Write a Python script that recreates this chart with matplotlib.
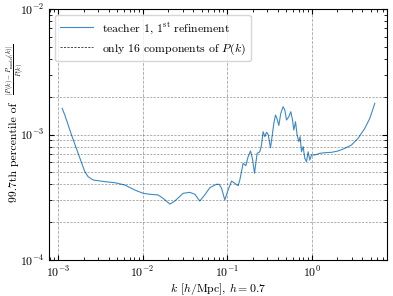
import numpy as np
import matplotlib
matplotlib.use("Agg")
from matplotlib import pyplot as plt

plt.rcParams['font.family'] = 'serif'
plt.rcParams['font.serif'] = ['cmr10']
plt.rcParams['mathtext.fontset'] = 'cm'
plt.rcParams['axes.formatter.use_mathtext'] = True
plt.rcParams['font.size'] = 8.5

# 99.7th percentile of relative error vs k
k_vals = [1.115e-3, 1.200e-3, 1.441e-3, 1.725e-3, 2.070e-3, 2.265e-3, 2.596e-3,
          3.57e-3, 4.69e-3, 6.16e-3, 8.09e-3, 1.014e-2, 1.217e-2, 1.526e-2,
          1.748e-2, 2.099e-2, 2.405e-2, 3.015e-2, 3.62e-2, 4.15e-2, 4.75e-2,
          5.44e-2, 6.24e-2, 7.49e-2, 8.04e-2, 8.59e-2, 9.39e-2, 0.1027, 0.1128,
          0.1234, 0.1349, 0.1414, 0.1546, 0.1665, 0.1772, 0.1892, 0.1998, 0.2110,
          0.2265, 0.2438, 0.2553, 0.2667, 0.2794, 0.2926, 0.3056, 0.3263, 0.3446,
          0.3570, 0.3740, 0.3906, 0.409, 0.4319, 0.4600, 0.4818, 0.5047, 0.5373,
          0.5674, 0.5943, 0.6157, 0.6449, 0.6737, 0.7054, 0.7311, 0.7595, 0.7932,
          0.8309, 0.8701, 0.9090, 0.9522, 0.997, 1.091, 1.250, 1.433, 1.720,
          2.059, 2.471, 2.966, 3.550, 4.262, 4.884, 5.598]
err_vals = [1.617e-3, 1.430e-3, 9.91e-4, 7.08e-4, 5.05e-4, 4.61e-4, 4.34e-4,
            4.21e-4, 4.13e-4, 3.96e-4, 3.61e-4, 3.40e-4, 3.34e-4, 3.30e-4,
            3.10e-4, 2.79e-4, 2.95e-4, 3.40e-4, 3.46e-4, 3.34e-4, 2.95e-4,
            3.30e-4, 3.77e-4, 4.01e-4, 4.01e-4, 3.73e-4, 3.01e-4, 3.61e-4, 4.26e-4,
            4.08e-4, 3.91e-4, 4.34e-4, 5.90e-4, 5.64e-4, 6.65e-4, 7.39e-4, 6.38e-4,
            4.91e-4, 7.08e-4, 7.29e-4, 8.25e-4, 1.053e-3, 9.61e-4, 1.041e-3,
            1.004e-3, 7.85e-4, 1.022e-3, 1.228e-3, 1.430e-3, 1.329e-3, 1.18e-3,
            1.476e-3, 1.665e-3, 1.567e-3, 1.304e-3, 1.386e-3, 1.519e-3, 1.304e-3,
            1.086e-3, 1.265e-3, 9.91e-4, 8.76e-4, 9.61e-4, 7.29e-4, 8.00e-4,
            6.46e-4, 6.07e-4, 7.29e-4, 6.26e-4, 6.87e-4, 6.87e-4, 7.08e-4, 7.16e-4,
            7.21e-4, 7.39e-4, 7.76e-4, 8.25e-4, 9.33e-4, 1.120e-3, 1.346e-3,
            1.772e-3]

# horizontal reference levels
comp_levels = [2e-3, 1e-3, 9e-4, 8e-4, 7e-4, 6e-4, 5e-4, 4e-4, 3e-4, 2e-4]

fig = plt.figure(figsize=(3.93, 2.96), dpi=100)
ax = fig.add_axes([0.1247, 0.1216, 0.86, 0.848])
ax: plt.Axes

ax.plot(k_vals, err_vals, color='#3d8ac6', lw=0.8,
        label=r'teacher 1, 1$^{\rm st}$ refinement')
for i, lev in enumerate(comp_levels):
    ax.axhline(lev, color='k', ls='--', lw=0.5, alpha=0.45,
               dashes=(3, 2),
               label='only 16 components of $P(k)$' if i == 0 else None)

ax.set_xscale('log')
ax.set_yscale('log')
ax.set_xlim(7.8e-4, 7.8)
ax.set_ylim(1e-4, 1e-2)
ax.grid(which='major', axis='x', ls='--', color='gray', lw=0.6, alpha=0.7)

ax.tick_params(which='both', direction='in', top=True, right=True)
ax.tick_params(which='major', length=3.5)
ax.tick_params(which='minor', length=2)

ax.set_xlabel(r'$k$ [$h$/Mpc], $h=0.7$')
ax.xaxis.set_label_coords(0.5, -0.082)

# y label: text part and the (smaller, latex-like) fraction
ax.text(-0.104, 0.43, '99.7th percentile of', transform=ax.transAxes,
        rotation=90, ha='center', va='center', rotation_mode='anchor')
ax.text(-0.098, 0.76, r'$\frac{|P(k)-P_{\rm model}(k)|}{P(k)}$',
        transform=ax.transAxes, fontsize=6.8,
        rotation=90, ha='center', va='center', rotation_mode='anchor')

leg = ax.legend(loc='upper left', fontsize=8.5, framealpha=0.8,
                handlelength=2.8)
leg.legend_handles[1].set_alpha(1.0)

fig.savefig('out.png', dpi=100)
